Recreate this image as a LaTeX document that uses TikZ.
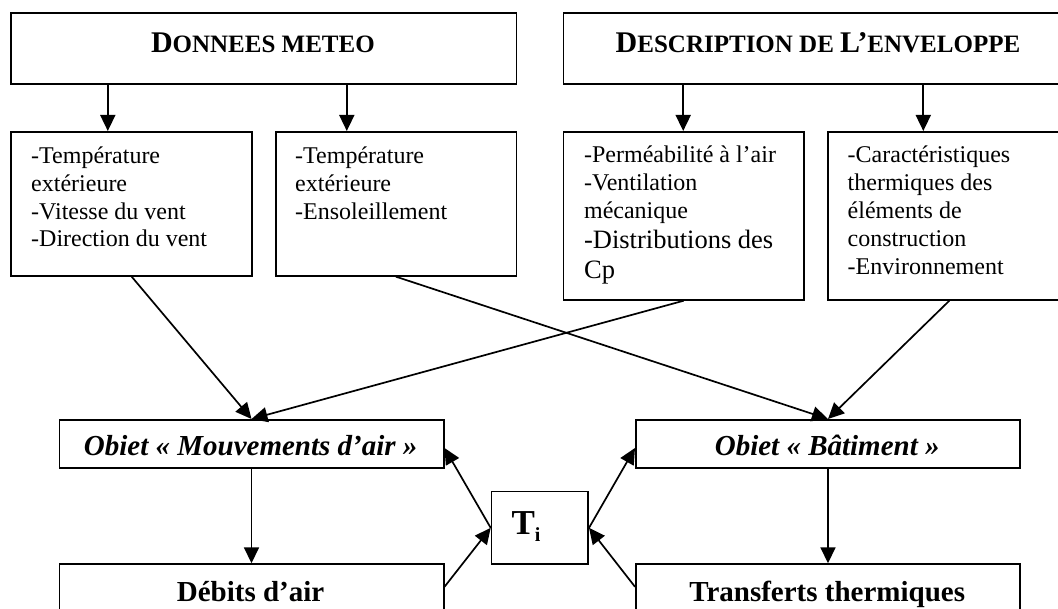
\documentclass[tikz,border=0pt]{standalone}
\usepackage{fontspec}
\setmainfont{Liberation Serif}
\usetikzlibrary{arrows.meta,calc}
\newcommand\hdB[1]{{\fontsize{30}{36}\selectfont #1}}
\newcommand\hdS[1]{{\fontsize{25}{30}\selectfont #1}}
\begin{document}
\begin{tikzpicture}[x=1pt,y=-1pt,
  box/.style={draw, line width=1.7pt, inner sep=0pt, anchor=north west},
  arr/.style={line width=1.7pt, -{Triangle[length=16pt,width=15pt]}},
  lbl/.style={inner sep=0pt, anchor=base west, font=\fontsize{24}{27.6}\selectfont},
  ttl/.style={inner sep=0pt, anchor=base, font=\bfseries},
  obj/.style={inner sep=0pt, anchor=base, font=\fontsize{29}{34}\selectfont\bfseries\itshape},
  res/.style={inner sep=0pt, anchor=base, font=\fontsize{29}{34}\selectfont\bfseries}]
\useasboundingbox (0,0) rectangle (1058,609);
\clip (0,0) rectangle (1058,609);
% boxes
\node[box, minimum width=505.2pt, minimum height=71pt] (meteo) at (10.3,12) {};
\node[box, minimum width=510.3pt, minimum height=71pt] (desc) at (562.7,12) {};
\node[box, minimum width=241.1pt, minimum height=144pt] (b1) at (10.3,131) {};
\node[box, minimum width=240.7pt, minimum height=144pt] (b2) at (274.8,131) {};
\node[box, minimum width=240.3pt, minimum height=168pt] (b3) at (562.7,131) {};
\node[box, minimum width=243pt, minimum height=168pt] (b4) at (827,131) {};
\node[box, minimum width=384.3pt, minimum height=48.3pt] (mouv) at (58.5,419) {};
\node[box, minimum width=384.3pt, minimum height=48.3pt] (bat) at (635,419) {};
\node[box, minimum width=96.6pt, minimum height=72.6pt] (ti) at (490.7,490.7) {};
\node[box, minimum width=384.3pt, minimum height=60pt] (debits) at (58.5,563.3) {};
\node[box, minimum width=384.3pt, minimum height=60pt] (transf) at (635,563.3) {};
% texts
\node[ttl] (tmeteo) at (262.9,52.7) {\hdB{D}\hdS{ONNEES METEO}};
\node[ttl] (tdesc) at (818,52.7) {\hdB{D}\hdS{ESCRIPTION DE }\hdB{L’}\hdS{ENVELOPPE}};
\node[lbl] (t1) at (31,164) {\vtop{\baselineskip=27.6pt\hbox{-Température}\hbox{extérieure}\hbox{-Vitesse du vent}\hbox{-Direction du vent}}};
\node[lbl] (t2) at (295,164) {\vtop{\baselineskip=27.6pt\hbox{-Température}\hbox{extérieure}\hbox{-Ensoleillement}}};
\node[lbl] (t3) at (583.9,163) {\vtop{\baselineskip=27.6pt\hbox{-Perméabilité à l’air}\hbox{-Ventilation}\hbox{mécanique}\baselineskip=30pt\hbox{\fontsize{26.5}{30}\selectfont -Distributions des}\hbox{\fontsize{26.5}{30}\selectfont Cp}}};
\node[lbl] (t4) at (847.5,163) {\vtop{\baselineskip=28pt\hbox{-Caractéristiques}\hbox{thermiques des}\hbox{éléments de}\hbox{construction}\hbox{-Environnement}}};
\node[obj] (tmouv) at (250.7,456) {Obiet « Mouvements d’air »};
\node[obj] (tbat) at (827.2,456) {Obiet « Bâtiment »};
\node[res] (tdeb) at (250.6,601) {Débits d’air};
\node[res] (ttra) at (827.2,601.5) {Transferts thermiques};
\node[inner sep=0pt, anchor=base west] (tti) at (511.3,534.3) {\fontsize{35}{40}\selectfont\bfseries T\raisebox{-7pt}{\fontsize{20}{24}\selectfont i}};
% arrow helper abscissae
\coordinate (x1) at (107.8,0);
\coordinate (x2) at (346.8,0);
\coordinate (x3) at (683.2,0);
\coordinate (x4) at (923.3,0);
\draw[arr] (meteo.south -| x1) -- (b1.north -| x1);
\draw[arr] (meteo.south -| x2) -- (b2.north -| x2);
\draw[arr] (desc.south -| x3) -- (b3.north -| x3);
\draw[arr] (desc.south -| x4) -- (b4.north -| x4);
\draw[arr] (b1.south) -- (mouv.north);
\draw[arr] (b3.south) -- (mouv.north);
\draw[arr] (b2.south) -- (bat.north);
\draw[arr] (b4.south) -- (bat.north);
\draw[arr] (mouv.south) -- (debits.north);
\draw[arr] (bat.south) -- (transf.north);
\draw[arr] (ti.west) -- ([yshift=-4pt]mouv.east);
\draw[arr] ([yshift=-23.5pt]debits.north east) -- (ti.west);
\draw[arr] (ti.east) -- ([yshift=-4pt]bat.west);
\draw[arr] ([yshift=-23.5pt]transf.north west) -- (ti.east);
\end{tikzpicture}
\end{document}
